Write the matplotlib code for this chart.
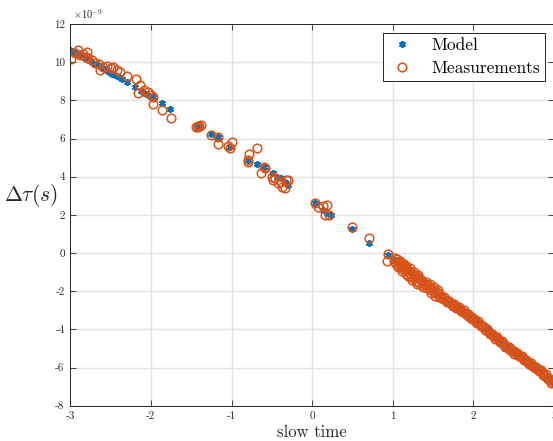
import matplotlib
matplotlib.use("Agg")
import matplotlib.pyplot as plt

# values in units of 1e-9 s
model_x = [-3.00, -2.96, -2.92, -2.88, -2.84, -2.80, -2.76, -2.72, -2.68, -2.64, -2.60, -2.56, -2.52,
           -2.48, -2.44, -2.40, -2.36, -2.30, -2.20, -2.12, -2.08, -2.04, -2.00, -1.97, -1.86, -1.76,
           -1.43, -1.41, -1.39, -1.26, -1.17, -1.02, -0.79, -0.68, -0.60, -0.49, -0.43, -0.39, -0.34, -0.30,
           0.04, 0.13, 0.19, 0.23, 0.49, 0.70, 0.94,
           1.00, 1.06, 1.12, 1.18, 1.24, 1.30, 1.37, 1.44, 1.51, 1.58, 1.65, 1.72, 1.79, 1.86, 1.93, 2.00,
           2.07, 2.14, 2.21, 2.28, 2.35, 2.42, 2.49, 2.56, 2.63, 2.70, 2.77, 2.84, 2.91, 2.96, 3.00]
model_y = [10.62, 10.52, 10.44, 10.36, 10.27, 10.18, 10.08, 9.98, 9.88, 9.79, 9.68, 9.58, 9.48,
           9.40, 9.31, 9.20, 9.10, 8.96, 8.70, 8.50, 8.40, 8.30, 8.20, 8.16, 7.84, 7.55,
           6.64, 6.62, 6.60, 6.24, 6.06, 5.55, 4.85, 4.68, 4.50, 4.18, 4.00, 3.92, 3.70, 3.57,
           2.60, 2.26, 2.10, 1.98, 1.25, 0.50, -0.08,
           -0.35, -0.56, -0.76, -0.95, -1.15, -1.35, -1.58, -1.81, -2.03, -2.24, -2.43, -2.63, -2.82, -3.03,
           -3.25, -3.47, -3.69, -3.91, -4.14, -4.38, -4.62, -4.87, -5.12, -5.35, -5.57, -5.79, -6.01,
           -6.24, -6.48, -6.66, -6.86]

meas_x = [-2.99, -2.94, -2.90, -2.88, -2.84, -2.81, -2.79, -2.78, -2.73, -2.69, -2.65, -2.63, -2.59,
          -2.54, -2.50, -2.47, -2.42, -2.38, -2.30, -2.19, -2.13, -2.16, -2.09, -2.04, -2.00, -1.97,
          -1.98, -1.86, -1.75,
          -1.44, -1.42, -1.40, -1.38, -1.41, -1.25, -1.17, -1.17, -1.04, -1.00, -1.02, -0.79, -0.78,
          -0.68, -0.80, -0.60, -0.63, -0.58, -0.50, -0.48, -0.46, -0.39, -0.33, -0.30, -0.37, -0.34, -0.42,
          0.04, 0.07, 0.14, 0.19, 0.16, 0.21, 0.49, 0.70, 0.94, 0.93,
          1.02, 1.04, 1.05, 1.07, 1.08, 1.10, 1.12, 1.13, 1.15, 1.16, 1.18, 1.20, 1.21, 1.23, 1.25, 1.27,
          1.29, 1.31, 1.33, 1.35, 1.37, 1.40, 1.42, 1.45, 1.47, 1.50, 1.52, 1.55, 1.57, 1.60, 1.63, 1.66,
          1.69, 1.72, 1.75, 1.78, 1.81, 1.84, 1.87, 1.90, 1.93, 1.96, 1.99, 2.02, 2.05, 2.08, 2.11, 2.14,
          2.17, 2.20, 2.23, 2.26, 2.29, 2.32, 2.35, 2.38, 2.41, 2.44, 2.47, 2.50, 2.53, 2.56, 2.59, 2.62,
          2.65, 2.68, 2.71, 2.74, 2.77, 2.80, 2.83, 2.86, 2.89, 2.92, 2.95, 2.97, 2.99,
          1.03, 1.06, 1.09, 1.11, 1.14, 1.17, 1.19, 1.22, 1.24, 1.26, 1.28, 1.30, 1.32, 1.34, 1.36, 1.38,
          1.41, 1.43, 1.46, 1.48, 1.51, 1.53, 1.56, 1.58, 1.61, 1.64, 1.67, 1.70, 1.73, 1.76, 1.79, 1.82,
          1.85, 1.88, 1.91, 1.94, 1.97, 2.00, 2.03, 2.06, 2.09, 2.12, 2.15, 2.18, 2.21, 2.24, 2.27, 2.30,
          2.33, 2.36, 2.39, 2.42, 2.45, 2.48, 2.51, 2.54, 2.57, 2.60, 2.63, 2.66, 2.69, 2.72, 2.75, 2.78,
          2.81, 2.84, 2.87, 2.90, 2.93, 2.96]
meas_y = [10.17, 10.48, 10.64, 10.38, 10.43, 10.27, 10.54, 10.20, 10.12, 9.96, 9.90, 9.60, 9.75,
          9.80, 9.70, 9.75, 9.60, 9.50, 9.28, 9.12, 8.80, 8.39, 8.54, 8.44, 8.28, 8.18,
          7.81, 7.50, 7.08,
          6.62, 6.68, 6.64, 6.70, 6.58, 6.19, 6.08, 5.72, 5.61, 5.82, 5.52, 4.88, 5.19,
          5.50, 4.78, 4.51, 4.20, 4.45, 4.00, 3.83, 3.92, 3.73, 3.83, 3.83, 3.47, 3.41, 3.65,
          2.63, 2.42, 2.47, 2.52, 2.00, 2.00, 1.37, 0.80, -0.05, -0.41,
          -0.40, -0.55, -0.30, -0.48, -0.70, -0.62, -0.50, -0.85, -0.72, -1.10, -0.90, -1.05, -0.80,
          -1.25, -1.10, -1.30, -1.45, -1.28, -1.55, -1.42, -1.70, -1.62, -1.85, -1.75, -1.95, -1.90,
          -2.12, -2.05, -2.28, -2.25, -2.40, -2.45, -2.58, -2.60, -2.75, -2.78, -2.90, -2.95, -3.08,
          -3.12, -3.28, -3.32, -3.48, -3.52, -3.65, -3.72, -3.82, -3.95, -4.00, -4.15, -4.22, -4.35,
          -4.40, -4.55, -4.60, -4.75, -4.85, -4.95, -5.05, -5.15, -5.25, -5.33, -5.45, -5.52, -5.65,
          -5.72, -5.85, -5.90, -6.05, -6.10, -6.20, -6.30, -6.42, -6.55, -6.60, -6.80, -6.72,
          -0.25, -0.75, -0.40, -0.95, -0.55, -0.68, -1.20, -0.92, -1.40, -0.98, -1.18, -1.60, -1.15,
          -1.38, -1.48, -1.80, -1.50, -1.68, -1.60, -2.08, -1.80, -2.25, -1.95, -2.15, -2.35, -2.30,
          -2.55, -2.50, -2.72, -2.65, -2.88, -2.82, -3.02, -3.00, -3.20, -3.18, -3.40, -3.38, -3.62,
          -3.58, -3.82, -3.80, -4.05, -4.08, -4.25, -4.30, -4.48, -4.45, -4.68, -4.70, -4.90, -4.92,
          -5.08, -5.12, -5.28, -5.22, -5.42, -5.40, -5.60, -5.58, -5.80, -5.78, -5.95, -5.98, -6.18,
          -6.12, -6.38, -6.35, -6.62, -6.68]

x_ticks = [-3, -2, -1, 0, 1, 2, 3]
y_ticks = [-8, -6, -4, -2, 0, 2, 4, 6, 8, 10, 12]

BLUE = "#0072BD"
ORANGE = "#D95319"
DARK = "#262626"

plt.rcParams["font.family"] = "cmr10"
plt.rcParams["mathtext.fontset"] = "cm"
plt.rcParams["axes.formatter.use_mathtext"] = True

fig = plt.figure(figsize=(5.53, 4.41), dpi=100)
ax = fig.add_axes([70.3 / 553, 35.3 / 441, 483.6 / 553, 381.7 / 441])

ax.plot(model_x, model_y, linestyle="none", marker=(6, 2, 0), markersize=5, mew=1.3,
        color=BLUE, label="Model")
ax.plot(meas_x, meas_y, linestyle="none", marker="o", markersize=6.2, mew=1.1,
        markerfacecolor="none", markeredgecolor=ORANGE, label="Measurements")

ax.set_xlim(-3, 3)
ax.set_ylim(-8, 12)
ax.set_xticks(x_ticks)
ax.set_xticklabels([f"{t:d}" for t in x_ticks])
ax.set_yticks(y_ticks)
ax.set_yticklabels([f"{t:d}" for t in y_ticks])
ax.grid(True, color="#e3e3e3", linewidth=1.0)
ax.set_axisbelow(True)
ax.tick_params(direction="in", length=4, width=0.6, colors=DARK, labelsize=8,
               top=True, right=True, pad=4)
for s in ax.spines.values():
    s.set_color(DARK)
    s.set_linewidth(0.7)

ax.text(0.005, 1.008, r"$\times 10^{-9}$", transform=ax.transAxes, fontsize=7.5,
        color=DARK, ha="left", va="bottom")
ax.set_xlabel("slow time", fontsize=12, color=DARK, labelpad=3)
ax.set_ylabel(r"$\Delta\tau(s)$", fontsize=15.5, rotation=0, color=DARK,
              ha="center", va="center")
ax.yaxis.set_label_coords(-0.082, 0.552)

leg = ax.legend(loc="upper right", bbox_to_anchor=(0.982, 0.977), borderaxespad=0,
                fontsize=12.5, frameon=True, fancybox=False, edgecolor=DARK, framealpha=1,
                handletextpad=0.9, borderpad=0.3, labelspacing=0.4, handlelength=1.6)
leg.get_frame().set_linewidth(0.7)

fig.savefig("out.png", dpi=100)
